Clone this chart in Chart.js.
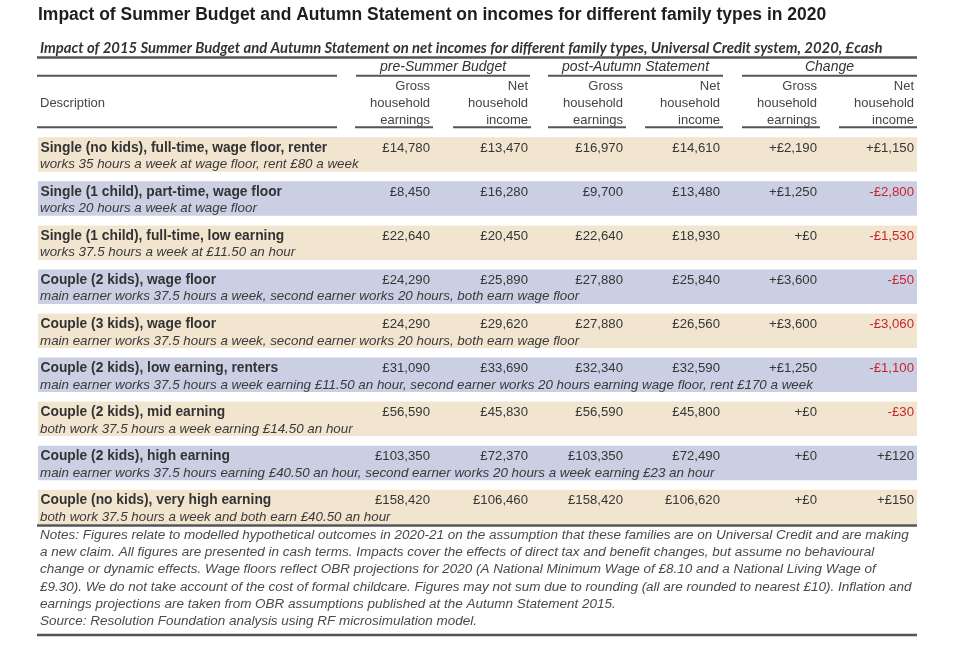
<!DOCTYPE html>
<html><head><meta charset="utf-8">
<script src="https://cdn.jsdelivr.net/npm/chart.js@4"></script>
<style>html,body{margin:0;padding:0;background:#fff}canvas{display:block}</style>
</head><body>
<canvas id="c" width="976" height="649"></canvas>
<script>
// ---------- data ----------
const titleText = "Impact of Summer Budget and Autumn Statement on incomes for different family types in 2020";
const subtitleText = "Impact of 2015 Summer Budget and Autumn Statement on net incomes for different family types, Universal Credit system, 2020, £cash";
const groupHeaders = ["pre-Summer Budget", "post-Autumn Statement", "Change"];
const columnHeaders = [
  ["Gross", "household", "earnings"],
  ["Net", "household", "income"],
  ["Gross", "household", "earnings"],
  ["Net", "household", "income"],
  ["Gross", "household", "earnings"],
  ["Net", "household", "income"]
];
const descriptionHeader = "Description";
const descriptions = [
  "Single (no kids), full-time, wage floor, renter",
  "Single (1 child), part-time, wage floor",
  "Single (1 child), full-time, low earning",
  "Couple (2 kids), wage floor",
  "Couple (3 kids), wage floor",
  "Couple (2 kids), low earning, renters",
  "Couple (2 kids), mid earning",
  "Couple (2 kids), high earning",
  "Couple (no kids), very high earning"
];
const details = [
  "works 35 hours a week at wage floor, rent £80 a week",
  "works 20 hours a week at wage floor",
  "works 37.5 hours a week at £11.50 an hour",
  "main earner works 37.5 hours a week, second earner works 20 hours, both earn wage floor",
  "main earner works 37.5 hours a week, second earner works 20 hours, both earn wage floor",
  "main earner works 37.5 hours a week earning £11.50 an hour, second earner works 20 hours earning wage floor, rent £170 a week",
  "both work 37.5 hours a week earning £14.50 an hour",
  "main earner works 37.5 hours earning £40.50 an hour, second earner works 20 hours a week earning £23 an hour",
  "both work 37.5 hours a week and both earn £40.50 an hour"
];
const preGross    = [14780, 8450, 22640, 24290, 24290, 31090, 56590, 103350, 158420];
const preNet      = [13470, 16280, 20450, 25890, 29620, 33690, 45830, 72370, 106460];
const postGross   = [16970, 9700, 22640, 27880, 27880, 32340, 56590, 103350, 158420];
const postNet     = [14610, 13480, 18930, 25840, 26560, 32590, 45800, 72490, 106620];
const changeGross = [2190, 1250, 0, 3600, 3600, 1250, 0, 0, 0];
const changeNet   = [1150, -2800, -1530, -50, -3060, -1100, -30, 120, 150];
const notes = [
  "Notes: Figures relate to modelled hypothetical outcomes in 2020-21 on the assumption that these families are on Universal Credit and are making",
  "a new claim. All figures are presented in cash terms. Impacts cover the effects of direct tax and benefit changes, but assume no behavioural",
  "change or dynamic effects. Wage floors reflect OBR projections for 2020 (A National Minimum Wage of £8.10 and a National Living Wage of",
  "£9.30). We do not take account of the cost of formal childcare. Figures may not sum due to rounding (all are rounded to nearest £10). Inflation and",
  "earnings projections are taken from OBR assumptions published at the Autumn Statement 2015.",
  "Source: Resolution Foundation analysis using RF microsimulation model."
];

// ---------- layout / style ----------
const SANS = "'Liberation Sans', Arial, sans-serif";
const BEIGE = "#f2e5d0";
const LAVENDER = "#cacfe3";
const RED = "#c9252c";
const LINE = "#555555";
// column anchor positions as fraction of the table width (x scale 0..1)
const COL_ANCHOR = [0.4460, 0.5575, 0.6655, 0.7759, 0.8862, 0.9966];

function commas(v) { return String(v).replace(/\B(?=(\d{3})+(?!\d))/g, ","); }
function money(v) { return "£" + commas(v); }
function change(v) { return (v < 0 ? "-" : "+") + "£" + commas(Math.abs(v)); }
function fit(ctx, text, style, family, target) {
  ctx.font = style + " 100px " + family;
  return 100 * target / ctx.measureText(text).width;
}
function hline(ctx, x1, x2, y, w) {
  ctx.save(); ctx.strokeStyle = LINE; ctx.lineWidth = w;
  ctx.beginPath(); ctx.moveTo(x1, y); ctx.lineTo(x2, y); ctx.stroke(); ctx.restore();
}

const tablePlugin = {
  id: "tableText",
  beforeDraw(chart) {
    const ctx = chart.ctx;
    ctx.save(); ctx.fillStyle = "#ffffff"; ctx.fillRect(0, 0, chart.width, chart.height); ctx.restore();
  },
  afterDraw(chart) {
    const ctx = chart.ctx;
    const xs = chart.scales.x, ys = chart.scales.y;
    const L = xs.getPixelForValue(0) - 1, R = xs.getPixelForValue(1);
    const colX = COL_ANCHOR.map(f => xs.getPixelForValue(f));
    ctx.save();
    ctx.textBaseline = "alphabetic";

    // title
    let s = fit(ctx, titleText, "bold", SANS, 789);
    ctx.font = "bold " + s + "px " + SANS; ctx.fillStyle = "#1e1e1e"; ctx.textAlign = "left";
    ctx.fillText(titleText, 38, 19.5);

    // subtitle
    s = fit(ctx, subtitleText, "italic bold", "Lato, " + SANS, 843);
    ctx.font = "italic bold " + s + "px Lato, " + SANS; ctx.fillStyle = "#333333";
    ctx.fillText(subtitleText, 40, 53);
    hline(ctx, L, R, 57.5, 2.5);

    // group headers
    const groups = [[colX[0] - 74, colX[1] + 2], [colX[2] - 75, colX[3] + 3], [colX[4] - 75, R]];
    ctx.font = "italic 14px " + SANS; ctx.fillStyle = "#333333"; ctx.textAlign = "center";
    groupHeaders.forEach((g, i) => ctx.fillText(g, (groups[i][0] + groups[i][1]) / 2, 70.5));
    hline(ctx, L, 337, 75.7, 2);
    groups.forEach(g => hline(ctx, g[0], g[1], 75.7, 2));

    // column headers
    ctx.font = "13px " + SANS; ctx.fillStyle = "#444444"; ctx.textAlign = "right";
    const hb = [89.5, 106.5, 123.5];
    columnHeaders.forEach((h, i) => h.forEach((t, k) => ctx.fillText(t, colX[i], hb[k])));
    ctx.textAlign = "left";
    ctx.fillText(descriptionHeader, 40, 106.5);
    hline(ctx, L, 337, 127.3, 2);
    colX.forEach(x => hline(ctx, x - 75, x + 3, 127.3, 2));

    // rows
    const boldSize = fit(ctx, descriptions[0], "bold", SANS, 287);
    const itSize = fit(ctx, details[0], "italic", SANS, 319);
    const cols = [preGross, preNet, postGross, postNet, changeGross, changeNet];
    descriptions.forEach((d, i) => {
      const yc = ys.getPixelForValue(i);
      ctx.textAlign = "left";
      ctx.font = "bold " + boldSize + "px " + SANS; ctx.fillStyle = "#333333";
      ctx.fillText(d, 40.5, yc - 2.8);
      ctx.font = "italic " + itSize + "px " + SANS; ctx.fillStyle = "#3a3a3a";
      ctx.fillText(details[i], 40, yc + 13.8);
      ctx.textAlign = "right";
      ctx.font = "13.2px " + SANS;
      cols.forEach((arr, c) => {
        const v = arr[i];
        ctx.fillStyle = (c === 5 && v < 0) ? RED : "#363636";
        ctx.fillText(c >= 4 ? change(v) : money(v), colX[c], yc - 2.8);
      });
    });
    hline(ctx, L, R, 525.5, 2.5);

    // notes
    const ns = fit(ctx, notes[3], "italic", SANS, 872);
    ctx.font = "italic " + ns + "px " + SANS; ctx.fillStyle = "#4a4a4a"; ctx.textAlign = "left";
    notes.forEach((n, k) => ctx.fillText(n, 40, 539 + k * 17.2));
    hline(ctx, L, R, 635, 2.5);
    ctx.restore();
  }
};

new Chart(document.getElementById("c"), {
  type: "bar",
  data: {
    labels: descriptions,
    datasets: [{
      data: descriptions.map(() => [0, 1]),
      backgroundColor: descriptions.map((_, i) => i % 2 === 0 ? BEIGE : LAVENDER),
      borderWidth: 0,
      barPercentage: 0.783,
      categoryPercentage: 1
    }]
  },
  options: {
    indexAxis: "y",
    responsive: false,
    animation: false,
    devicePixelRatio: 1,
    layout: { padding: { left: 38, right: 59, top: 132.5, bottom: 120 } },
    plugins: { legend: { display: false }, tooltip: { enabled: false }, title: { display: false } },
    scales: {
      x: { display: false, min: 0, max: 1 },
      y: { display: false }
    }
  },
  plugins: [tablePlugin]
});
</script>
</body></html>
